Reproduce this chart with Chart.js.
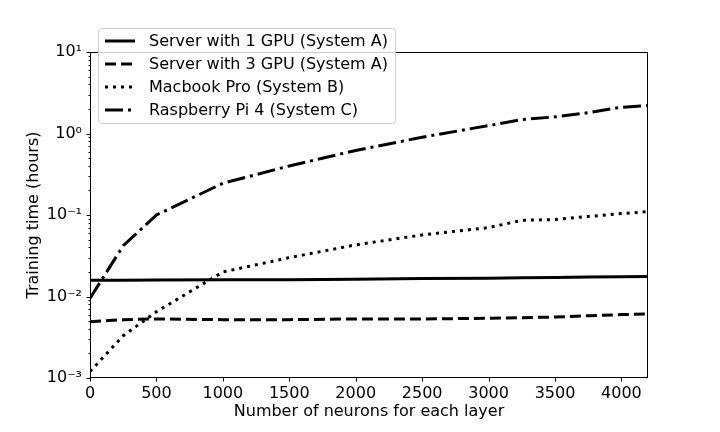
<!DOCTYPE html>
<html>
<head>
<meta charset="utf-8">
<script src="https://cdn.jsdelivr.net/npm/chart.js@4.4.0/dist/chart.umd.min.js"></script>
<style>
html,body{margin:0;padding:0;background:#fff;}
#wrap{width:720px;height:432px;position:relative;}
</style>
</head>
<body>
<div id="wrap"><canvas id="c" width="720" height="432"></canvas></div>
<script>
const neurons = [0, 250, 500, 1000, 1500, 2000, 2500, 3000, 3250, 3500, 3750, 4000, 4200];
const server1 = [0.0158, 0.0158, 0.0159, 0.0160, 0.0161, 0.0163, 0.0166, 0.0168, 0.0170, 0.0171, 0.0173, 0.0175, 0.0176];
const server3 = [0.0049, 0.0052, 0.0053, 0.0052, 0.0052, 0.0053, 0.0053, 0.0054, 0.0055, 0.0056, 0.0058, 0.0060, 0.0061];
const macbook = [0.0012, 0.0033, 0.0065, 0.0200, 0.0300, 0.0430, 0.0570, 0.0700, 0.0860, 0.0880, 0.0960, 0.1040, 0.1100];
const raspberry = [0.0095, 0.0420, 0.1000, 0.2450, 0.4000, 0.6200, 0.9000, 1.2500, 1.4800, 1.6000, 1.8000, 2.1000, 2.2000];
const seriesNames = ["Server with 1 GPU (System A)", "Server with 3 GPU (System A)", "Macbook Pro (System B)", "Raspberry Pi 4 (System C)"];
const xTicks = [0, 500, 1000, 1500, 2000, 2500, 3000, 3500, 4000];
const yMajor = [1e-3, 1e-2, 1e-1, 1e0, 1e1];
const yLabels = ["10\u207B\u00B3", "10\u207B\u00B2", "10\u207B\u00B9", "10\u2070", "10\u00B9"];
const xTitle = "Number of neurons for each layer";
const yTitle = "Training time (hours)";

const FONT = "'DejaVu Sans', sans-serif";
const dashes = [[], [11, 5], [3, 5], [18, 5, 3, 5]];
const allSeries = [server1, server3, macbook, raspberry];

const datasets = allSeries.map((s, i) => ({
  label: seriesNames[i],
  data: neurons.map((x, j) => ({x: x, y: s[j]})),
  borderColor: '#000',
  backgroundColor: '#000',
  borderWidth: 3,
  borderDash: dashes[i],
  pointRadius: 0,
  tension: 0,
  fill: false
}));

const yTickValues = [];
for (let e = -3; e <= 1; e++) {
  for (let m = 1; m <= 9; m++) {
    const v = m * Math.pow(10, e);
    if (v <= 10.0000001) yTickValues.push({value: v, major: m === 1});
  }
}

const deco = {
  id: 'deco',
  afterDraw(chart) {
    const ctx = chart.ctx;
    const a = chart.chartArea;
    const xs = chart.scales.x, ys = chart.scales.y;
    ctx.save();
    ctx.strokeStyle = '#000';
    ctx.lineWidth = 1;
    ctx.strokeRect(Math.round(a.left) + 0.5, Math.round(a.top) + 0.5, Math.round(a.right - a.left) - 1, Math.round(a.bottom - a.top) - 1);
    yTickValues.forEach(t => {
      const py = Math.round(ys.getPixelForValue(t.value)) + 0.5;
      const len = t.major ? 4 : 2;
      ctx.beginPath();
      ctx.moveTo(a.left + 0.5, py);
      ctx.lineTo(a.left + 0.5 - len, py);
      ctx.stroke();
    });
    xTicks.forEach(v => {
      const px = Math.round(xs.getPixelForValue(v)) + 0.5;
      ctx.beginPath();
      ctx.moveTo(px, a.bottom - 0.5);
      ctx.lineTo(px, a.bottom + 3.5);
      ctx.stroke();
    });
    const lx = 98, ly = 28, lw = 297, lh = 95;
    ctx.beginPath();
    ctx.roundRect(lx + 0.5, ly + 0.5, lw, lh, 3);
    ctx.fillStyle = 'rgba(255,255,255,0.8)';
    ctx.fill();
    ctx.strokeStyle = '#cccccc';
    ctx.lineWidth = 1;
    ctx.stroke();
    ctx.font = '16px ' + FONT;
    ctx.textBaseline = 'middle';
    ctx.textAlign = 'left';
    seriesNames.forEach((n, i) => {
      const cy = 41 + i * 23;
      ctx.strokeStyle = '#000';
      ctx.lineWidth = 3;
      ctx.setLineDash(dashes[i]);
      ctx.beginPath();
      ctx.moveTo(105, cy);
      ctx.lineTo(135, cy);
      ctx.stroke();
      ctx.setLineDash([]);
      ctx.fillStyle = '#000';
      ctx.fillText(n, 149, cy + 1);
    });
    ctx.restore();
  }
};

new Chart(document.getElementById('c'), {
  type: 'line',
  data: {datasets: datasets},
  options: {
    responsive: false,
    animation: false,
    devicePixelRatio: 1,
    layout: {padding: {left: 0, right: 72, top: 52, bottom: 0}},
    plugins: {legend: {display: false}, tooltip: {enabled: false}},
    scales: {
      x: {
        type: 'linear',
        min: 0, max: 4200,
        afterFit(s) { s.height = 54; },
        afterBuildTicks(s) { s.ticks = xTicks.map(v => ({value: v})); },
        grid: {display: false, drawTicks: false},
        border: {display: false},
        ticks: {color: '#000', font: {family: FONT, size: 16}, padding: 6, autoSkip: false, maxRotation: 0, callback: v => String(v)},
        title: {display: true, text: xTitle, color: '#000', font: {family: FONT, size: 16}, padding: {top: 0, bottom: 11}}
      },
      y: {
        type: 'logarithmic',
        min: 1e-3, max: 10,
        afterFit(s) { s.width = 90; },
        afterBuildTicks(s) { s.ticks = yMajor.map(v => ({value: v, major: true})); },
        grid: {display: false, drawTicks: false},
        border: {display: false},
        ticks: {color: '#000', font: {family: FONT, size: 16}, padding: 8, autoSkip: false,
          callback: (v) => { const i = yMajor.findIndex(m => Math.abs(m - v) / m < 1e-6); return i >= 0 ? yLabels[i] : ''; }},
        title: {display: true, text: yTitle, color: '#000', font: {family: FONT, size: 16}, padding: {top: 24, bottom: 0}}
      }
    }
  },
  plugins: [deco]
});
</script>
</body>
</html>
